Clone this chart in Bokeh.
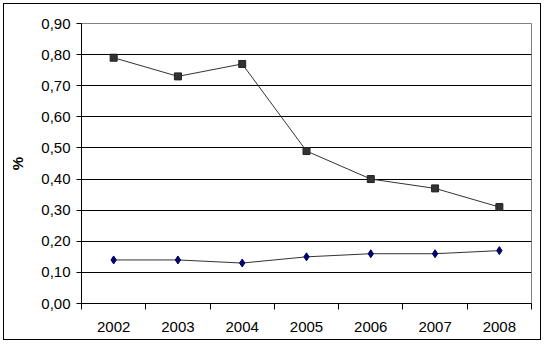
from bokeh.plotting import figure
from bokeh.layouts import column
from bokeh.models import FixedTicker, CustomJSTickFormatter, ColumnDataSource
from bokeh.embed import file_html
from bokeh.resources import INLINE

years = ["2002", "2003", "2004", "2005", "2006", "2007", "2008"]
series_a = [0.79, 0.73, 0.77, 0.49, 0.40, 0.37, 0.31]
series_b = [0.14, 0.14, 0.13, 0.15, 0.16, 0.16, 0.17]
y_ticks = [0.0, 0.1, 0.2, 0.3, 0.4, 0.5, 0.6, 0.7, 0.8, 0.9]
y_label = "%"

xpos = [i + 0.5 for i in range(len(years))]
src = ColumnDataSource(dict(x=xpos, a=series_a, b=series_b, year=years))

OFF = 4  # 3px margin + 1px border of the wrapper
W, H = 536, 335
p = figure(width=W, height=H, x_range=(0, len(years)), y_range=(y_ticks[0], y_ticks[-1]),
           output_backend="svg", toolbar_location=None,
           min_border_left=81 - OFF, min_border_right=W - (531 - OFF),
           min_border_top=23 - OFF, min_border_bottom=H - (303 - OFF),
           background_fill_color="white", border_fill_color="white")

p.outline_line_color = "#808080"
p.outline_line_width = 1

# y axis
p.yaxis.ticker = FixedTicker(ticks=y_ticks, minor_ticks=[])
p.yaxis.formatter = CustomJSTickFormatter(code="return tick.toFixed(2).replace('.', ',');")
p.yaxis.axis_label = y_label
p.yaxis.axis_label_text_font = "Liberation Sans"
p.yaxis.axis_label_text_font_size = "15px"
p.yaxis.axis_label_text_font_style = "bold"
p.yaxis.axis_label_text_color = "black"
p.yaxis.axis_label_standoff = 12
p.yaxis.major_tick_in = 0
p.yaxis.major_tick_out = 5
p.yaxis.major_label_standoff = 6

# x axis
p.xaxis.ticker = FixedTicker(ticks=xpos, minor_ticks=list(range(len(years) + 1)))
p.xaxis.formatter = CustomJSTickFormatter(args=dict(years=years),
                                          code="return years[Math.floor(tick)];")
p.xaxis.major_tick_line_color = None
p.xaxis.major_tick_in = 0
p.xaxis.major_tick_out = 6
p.xaxis.minor_tick_in = 0
p.xaxis.minor_tick_out = 6
p.xaxis.minor_tick_line_color = "black"
p.xaxis.major_label_standoff = 12

for ax in (p.xaxis, p.yaxis):
    ax.axis_line_color = "black"
    ax.axis_line_width = 1
    ax.major_label_text_font = "Liberation Sans"
    ax.major_label_text_font_size = "15px"
    ax.major_label_text_color = "black"

p.yaxis.major_tick_line_color = "black"

# grid
p.xgrid.visible = False
p.ygrid.ticker = FixedTicker(ticks=y_ticks[1:-1])
p.ygrid.grid_line_color = "black"
p.ygrid.grid_line_width = 1

# series
p.line("x", "a", source=src, line_color="#333333", line_width=1)
p.scatter("x", "a", source=src, marker="square", size=7, fill_color="#333333", line_color="#222222")
p.line("x", "b", source=src, line_color="#333333", line_width=1)
p.scatter("x", "b", source=src, marker="diamond", size=8, fill_color="#000080", line_color="#000050")

layout = column(p, styles={"border": "1px solid black", "margin": "3px", "background": "white"})

open("out.html", "w").write(file_html(layout, INLINE))
